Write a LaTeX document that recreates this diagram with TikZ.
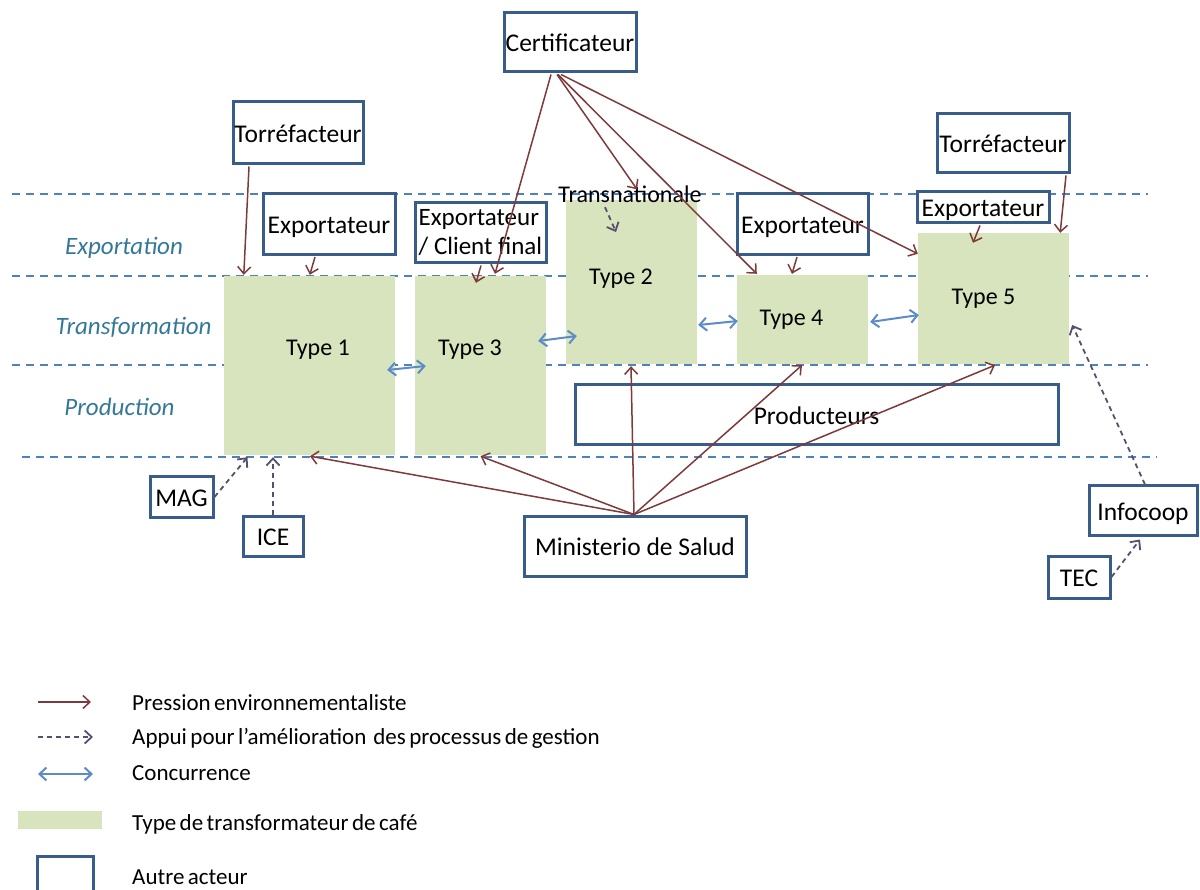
\documentclass[tikz,border=0pt]{standalone}
\usepackage{fontspec}
\setmainfont{Carlito}
\usetikzlibrary{arrows.meta,calc}
\definecolor{boxblue}{RGB}{56,93,138}
\definecolor{typegreen}{RGB}{215,228,189}
\definecolor{press}{RGB}{125,58,58}
\definecolor{lanes}{RGB}{79,129,189}
\definecolor{conc}{RGB}{92,140,200}
\definecolor{appui}{RGB}{88,78,110}
\definecolor{lanetext}{RGB}{52,120,152}
\newcommand{\bigf}{\fontsize{25.5}{29}\selectfont}
\newcommand{\typef}{\fontsize{24}{29}\selectfont}
\newcommand{\lanef}{\fontsize{25}{29}\selectfont}
\newcommand{\legf}{\fontsize{23}{27}\selectfont\spaceskip=0.15em plus 0.05em}
\begin{document}
\begin{tikzpicture}[x=1pt,y=-1pt,
  box/.style={draw=boxblue,line width=3pt,fill=white,inner sep=0pt,font=\bigf},
  actor/.style={box,text height=20pt,text depth=1pt},
  ttype/.style={fill=typegreen,inner sep=0pt},
  lbl/.style={inner sep=0pt,font=\typef,text height=18pt,text depth=3pt},
  lane/.style={draw=lanes,line width=1.5pt,dash pattern=on 8pt off 6pt},
  lanelbl/.style={inner sep=0pt,font=\lanef\itshape,text=lanetext,text height=18pt,text depth=3pt},
  tipb/.tip={Straight Barb[length=7pt,width=13pt]},
  pressarrow/.style={draw=press,line width=1.5pt,-tipb},
  appuiarrow/.style={draw=appui,line width=1.8pt,dash pattern=on 5pt off 4pt,-tipb},
  concarrow/.style={draw=conc,line width=2pt,tipb-tipb},
  legtext/.style={inner sep=0pt,anchor=west,font=\legf,text height=17pt,text depth=3pt}
]
\clip (0,0) rectangle (1200,890);

% lanes
\draw[lane] (12,194) -- (1148,194);
\draw[lane] (12,276) -- (1148,276);
\draw[lane] (12,365) -- (1148,365);
\draw[lane] (22,457) -- (1157,457);

\node[lanelbl] (lexp) at (124,247) {Exportation};
\node[lanelbl] (ltra) at (133.5,327) {Transformation};
\node[lanelbl] (lpro) at (119.5,408) {Production};

% transformer types
\node[ttype,minimum width=171,minimum height=179] (t1) at (309.5,365.5) {};
\node[ttype,minimum width=131,minimum height=179] (t3) at (480.5,365.5) {};
\node[ttype,minimum width=131,minimum height=164] (t2) at (631.5,282) {};
\node[ttype,minimum width=131,minimum height=89] (t4) at (802.5,319.5) {};
\node[ttype,minimum width=151,minimum height=131] (t5) at (993.5,298.5) {};
\node[lbl] (t1l) at (318,348) {Type 1};
\node[lbl] (t3l) at (470,348) {Type 3};
\node[lbl] (t2l) at (621,277) {Type 2};
\node[lbl] (t4l) at (791.5,318) {Type 4};
\node[lbl] (t5l) at (983.5,297) {Type 5};
\node[lbl] (trans) at (630,195) {Transnationale};

% actors
\node[actor,minimum width=132,minimum height=59] (cert) at (570,42.5) {Certificateur};
\node[actor,minimum width=130,minimum height=62] (torr1) at (298,133) {Torréfacteur};
\node[actor,minimum width=132,minimum height=61] (exp1) at (329,224) {Exportateur};
\node[box,minimum width=131,minimum height=60,align=left,font=\fontsize{25}{29}\selectfont] (expcf) at (480.5,233) {Exportateur\\/ Client final};
\node[actor,minimum width=131,minimum height=61] (exp4) at (802.5,224) {Exportateur};
\node[actor,minimum width=132,minimum height=59] (torr2) at (1003,143.5) {Torréfacteur};
\node[actor,minimum width=132,minimum height=31] (exp5) at (983,207.5) {Exportateur};
\node[actor,minimum width=483,minimum height=60] (prod) at (816.5,415) {Producteurs};
\node[actor,minimum width=222,minimum height=60] (mins) at (635,546) {Ministerio de Salud};
\node[actor,minimum width=63,minimum height=40] (mag) at (181.5,497) {MAG};
\node[actor,minimum width=60,minimum height=40] (ice) at (273,536) {ICE};
\node[actor,minimum width=108,minimum height=49] (info) at (1143,510.5) {Infocoop};
\node[actor,minimum width=62,minimum height=42] (tec) at (1079,577) {TEC};

% pression environnementaliste
\draw[pressarrow] ($(cert.south)+(-19,1)$) -- ($(t3.north)+(14.5,-2)$);
\draw[pressarrow] ($(cert.south)+(-13,1)$) -- ($(trans.north)+(7,5)$);
\draw[pressarrow] ($(cert.south)+(-12,1)$) -- ($(t4.north west)+(20,-1)$);
\draw[pressarrow] ($(cert.south)+(-9,1)$) -- ($(t5.north west)+(0,21)$);
\draw[pressarrow] ($(torr1.south)+(-49,1)$) -- ($(t1.north west)+(20,-1)$);
\draw[pressarrow] ($(exp1.south)+(-14,1)$) -- ($(t1.north west)+(86,-1)$);
\draw[pressarrow] ($(expcf.south)+(0.5,1)$) -- ($(t3.north)+(-4.5,7)$);
\draw[pressarrow] ($(exp4.south)+(-5.5,1)$) -- ($(t4.north)+(-10.5,-1)$);
\draw[pressarrow] ($(torr2.south)+(63,1)$) -- ($(t5.north east)+(-9,0)$);
\draw[pressarrow] ($(exp5.south)+(-3,1)$) -- ($(t5.north)+(-20.5,10)$);
\draw[pressarrow] ($(mins.north)+(-1,0)$) -- ($(t1.south)+(0.5,1)$);
\draw[pressarrow] ($(mins.north)+(-1,0)$) -- ($(t3.south)+(0,1)$);
\draw[pressarrow] ($(mins.north)+(-1,0)$) -- ($(t2.south)+(-0.5,2)$);
\draw[pressarrow] ($(mins.north)+(-1,0)$) -- ($(t4.south)+(-0.5,1)$);
\draw[pressarrow] ($(mins.north)+(-1,0)$) -- ($(t5.south)+(1.5,1)$);

% appui
\draw[appuiarrow] ($(trans.south)+(-25,1.5)$) -- ($(t2.center)+(-15.5,-50)$);
\draw[appuiarrow] (mag.east) -- ($(t1.south)+(-62,2)$);
\draw[appuiarrow] (ice.north) -- ($(t1.south)+(-36.5,2)$);
\draw[appuiarrow] ($(info.north)+(2,0)$) -- ($(t5.east)+(3,26.5)$);
\draw[appuiarrow] (tec.east) -- ($(info.south)+(-3,3)$);

% concurrence
\draw[concarrow] ($(t1.east)+(-8,4.5)$) -- ($(t3.west)+(11,0.5)$);
\draw[concarrow] ($(t3.east)+(-8,-24.5)$) -- ($(t2.west)+(11,54)$);
\draw[concarrow] ($(t2.east)+(1,43)$) -- ($(t4.west)+(1,1.5)$);
\draw[concarrow] ($(t4.east)+(2,2.5)$) -- ($(t5.west)+(1,16.5)$);

% legend
\coordinate (la1) at (38,702); \coordinate (lb1) at (91,702);
\coordinate (la2) at (38,737); \coordinate (lb2) at (93,737);
\coordinate (la3) at (38,774); \coordinate (lb3) at (93,774);
\draw[pressarrow] (la1) -- (lb1);
\draw[appuiarrow] (la2) -- (lb2);
\draw[concarrow] (la3) -- (lb3);
\node[ttype,minimum width=84,minimum height=18] (legtype) at (60,820) {};
\node[box,minimum width=56,minimum height=50] (legactor) at (65,881) {};
\node[legtext] (lt1) at (132,703) {Pression environnementaliste};
\node[legtext] (lt2) at (132,737) {Appui pour l’amélioration\ \ des processus de gestion};
\node[legtext] (lt3) at (132,773) {Concurrence};
\node[legtext] (lt4) at (132,823) {Type de transformateur de café};
\node[legtext] (lt5) at (132,877) {Autre acteur};
\end{tikzpicture}
\end{document}
